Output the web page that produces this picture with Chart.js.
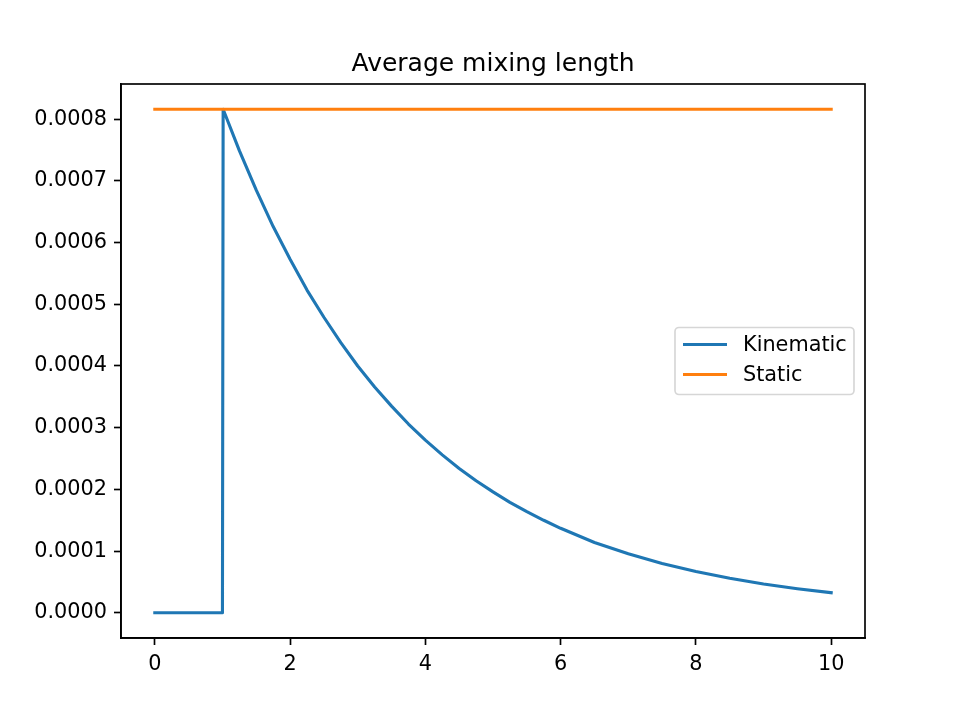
<!DOCTYPE html>
<html>
<head>
<meta charset="utf-8">
<title>Average mixing length</title>
<script src="https://cdn.jsdelivr.net/npm/chart.js@4.4.0/dist/chart.umd.min.js"></script>
<style>
    body { margin: 0; background: #fff; }
    #chart { display: block; }
</style>
</head>
<body>
<canvas id="chart" width="961" height="719"></canvas>
<script>
// Values
const chartTitle = 'Average mixing length';
const seriesNames = ['Kinematic', 'Static'];
const seriesColors = ['#1f77b4', '#ff7f0e'];

const kinematicX = [0, 1, 1.01, 1.25, 1.5, 1.75, 2, 2.25, 2.5, 2.75, 3, 3.25, 3.5, 3.75, 4, 4.25, 4.5, 4.75,
    5, 5.25, 5.5, 5.75, 6, 6.5, 7, 7.5, 8, 8.5, 9, 9.5, 10];
const kinematicY = [0, 0, 0.000816, 0.000749, 0.000685, 0.000626, 0.000573, 0.000523, 0.000479, 0.000438,
    0.000400, 0.000366, 0.000335, 0.000306, 0.000280, 0.000256, 0.000234, 0.000214, 0.000196, 0.000179,
    0.000164, 0.000150, 0.000137, 0.000114, 0.0000956, 0.0000799, 0.0000668, 0.0000559, 0.0000467,
    0.0000391, 0.0000326];

const staticX = [0, 10];
const staticY = [0.000816, 0.000816];

const xTickValues = [0, 2, 4, 6, 8, 10];
const yTickValues = [0, 0.0001, 0.0002, 0.0003, 0.0004, 0.0005, 0.0006, 0.0007, 0.0008];

const FONT = '"DejaVu Sans", "Liberation Sans", sans-serif';
const LW = 1.67;

document.addEventListener('DOMContentLoaded', function() {
    createChart();
});

function toPoints(xs, ys) {
    return xs.map((x, i) => ({ x: x, y: ys[i] }));
}

// draws the top/right spines and a matplotlib-like legend in the middle right
const frameAndLegend = {
    id: 'frameAndLegend',
    afterDraw(chart) {
        const ctx = chart.ctx;
        const a = chart.chartArea;
        ctx.save();
        ctx.strokeStyle = '#000';
        ctx.lineWidth = LW;
        ctx.strokeRect(a.left, a.top, a.right - a.left, a.bottom - a.top);

        const boxW = 179, boxH = 67;
        const boxX = a.right - 11 - boxW;
        const boxY = (a.top + a.bottom) / 2 - boxH / 2;
        ctx.beginPath();
        ctx.roundRect(boxX, boxY, boxW, boxH, 4);
        ctx.fillStyle = 'rgba(255,255,255,0.8)';
        ctx.fill();
        ctx.strokeStyle = 'rgba(204,204,204,0.8)';
        ctx.lineWidth = 1.67;
        ctx.stroke();

        ctx.font = '20.8px ' + FONT;
        ctx.textBaseline = 'middle';
        ctx.textAlign = 'left';
        seriesNames.forEach((name, i) => {
            const y = boxY + 17 + i * 30;
            ctx.beginPath();
            ctx.moveTo(boxX + 8, y);
            ctx.lineTo(boxX + 52, y);
            ctx.strokeStyle = seriesColors[i];
            ctx.lineWidth = 3.1;
            ctx.lineCap = 'butt';
            ctx.stroke();
            ctx.fillStyle = '#000';
            ctx.fillText(name, boxX + 68, y + 1);
        });
        ctx.restore();
    }
};

function createChart() {
    const ctx = document.getElementById('chart').getContext('2d');
    new Chart(ctx, {
        type: 'scatter',
        data: {
            datasets: [
                {
                    label: seriesNames[0],
                    data: toPoints(kinematicX, kinematicY),
                    borderColor: seriesColors[0],
                    backgroundColor: seriesColors[0],
                    borderWidth: 3.1,
                    showLine: true,
                    pointRadius: 0,
                    tension: 0,
                    borderCapStyle: 'square',
                    borderJoinStyle: 'round',
                    order: 1
                },
                {
                    label: seriesNames[1],
                    data: toPoints(staticX, staticY),
                    borderColor: seriesColors[1],
                    backgroundColor: seriesColors[1],
                    borderWidth: 3.1,
                    showLine: true,
                    pointRadius: 0,
                    borderCapStyle: 'square',
                    order: 0
                }
            ]
        },
        options: {
            responsive: false,
            animation: false,
            events: [],
            layout: { padding: { left: 0, right: 96, top: 0, bottom: 0 } },
            plugins: {
                legend: { display: false },
                tooltip: { enabled: false },
                title: {
                    display: true,
                    text: chartTitle,
                    fullSize: false,
                    color: '#000',
                    font: { family: FONT, size: 25, weight: 'normal', lineHeight: 1.2 },
                    padding: { top: 49, bottom: 5 }
                }
            },
            scales: {
                x: {
                    type: 'linear',
                    min: -0.5,
                    max: 10.5,
                    afterFit: s => { s.height = 81; },
                    afterBuildTicks: s => { s.ticks = xTickValues.map(v => ({ value: v })); },
                    grid: { drawOnChartArea: false, drawTicks: true, tickLength: 7, tickWidth: LW, tickColor: '#000' },
                    border: { display: true, color: '#000', width: LW },
                    ticks: {
                        color: '#000',
                        padding: 7,
                        maxRotation: 0,
                        font: { family: FONT, size: 20.8 },
                        callback: v => String(v)
                    }
                },
                y: {
                    type: 'linear',
                    min: -0.0000408,
                    max: 0.000857,
                    afterFit: s => { s.width = 121; },
                    afterBuildTicks: s => { s.ticks = yTickValues.map(v => ({ value: v })); },
                    grid: { drawOnChartArea: false, drawTicks: true, tickLength: 7, tickWidth: LW, tickColor: '#000' },
                    border: { display: true, color: '#000', width: LW },
                    ticks: {
                        color: '#000',
                        padding: 7,
                        font: { family: FONT, size: 20.8 },
                        callback: v => v.toFixed(4)
                    }
                }
            }
        },
        plugins: [frameAndLegend]
    });
}
</script>
</body>
</html>
